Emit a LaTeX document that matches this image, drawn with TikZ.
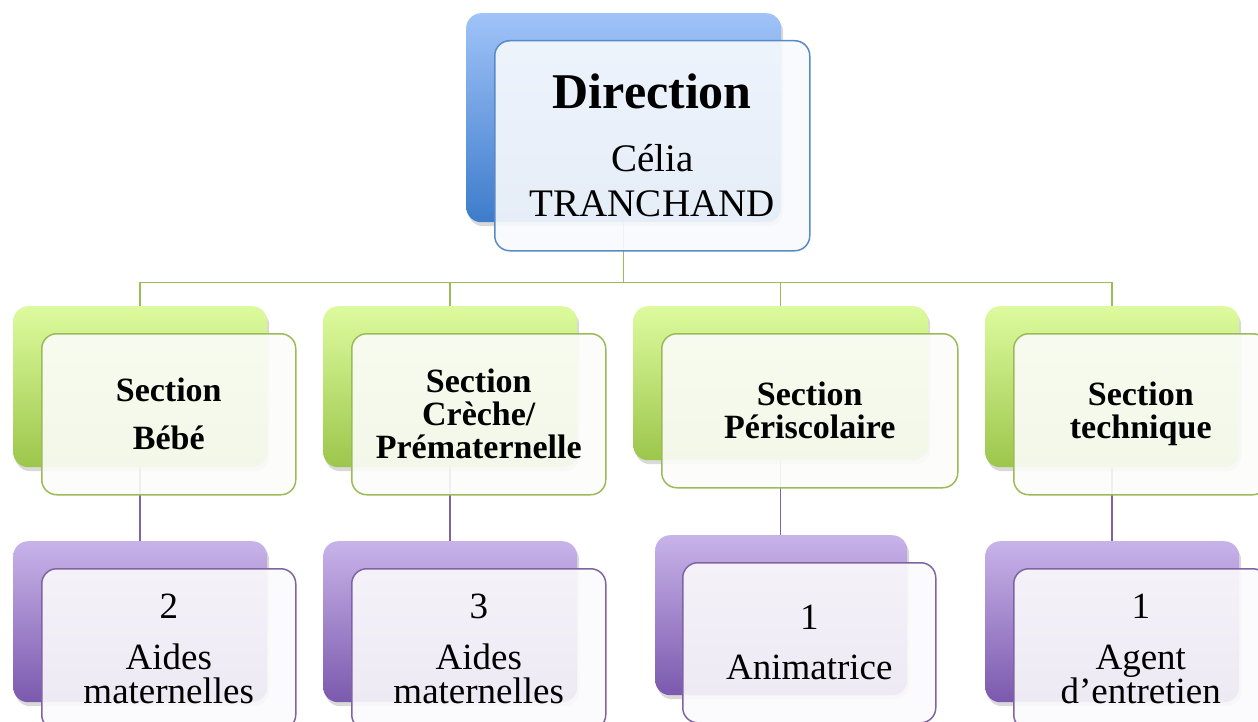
\documentclass[tikz,border=0pt]{standalone}
\usepackage{fontspec}
\setmainfont{Liberation Serif}
\usepackage{tikz}
\usetikzlibrary{positioning,shadows,backgrounds}

\definecolor{blueTop}{HTML}{A0C3F8}
\definecolor{blueBottom}{HTML}{3D7CCB}
\definecolor{blueLine}{HTML}{5A8AC6}
\definecolor{greenTop}{HTML}{DDFB9E}
\definecolor{greenBottom}{HTML}{9CC64B}
\definecolor{greenLine}{HTML}{9BBB59}
\definecolor{purpleTop}{HTML}{C8B3E9}
\definecolor{purpleBottom}{HTML}{7B59AE}
\definecolor{purpleLine}{HTML}{8064A2}

\tikzset{
  card/.style={rectangle, rounded corners=15pt, inner sep=0pt, anchor=north west},
  back/.style={card, drop shadow={opacity=0.3, shadow xshift=2pt, shadow yshift=-4pt}},
  front/.style={card, line width=1.5pt, fill opacity=0.9, text opacity=1, align=center},
  blueback/.style={back, top color=blueTop, bottom color=blueBottom},
  bluefront/.style={front, draw=blueLine, fill=blueLine!4!white},
  greenback/.style={back, top color=greenTop, bottom color=greenBottom},
  greenfront/.style={front, draw=greenLine, fill=greenLine!3!white},
  purpleback/.style={back, top color=purpleTop, bottom color=purpleBottom},
  purplefront/.style={front, draw=purpleLine, fill=purpleLine!3!white},
  sectionsize/.style={minimum width=254pt, minimum height=161pt},
  greenlink/.style={draw=greenLine, line width=1.5pt},
  purplelink/.style={draw=purpleLine, line width=1.5pt},
  dirtext/.style={font=\fontsize{39}{45}\selectfont},
  sectiontext/.style={font=\fontsize{34}{33}\selectfont\bfseries},
  stafftext/.style={font=\fontsize{37}{34}\selectfont},
}

\begin{document}
\begin{tikzpicture}[x=1pt, y=-1pt]
        \useasboundingbox (0,0) rectangle (1258,722);
        \clip (0,0) rectangle (1258,722);

        % NODES
        % -----------------

        % Direction
        \node[blueback, minimum width=315pt, minimum height=209pt] (dirback) at (466,13) {};
        \node[bluefront, dirtext, minimum width=315pt, minimum height=210pt, below right=27pt and 28pt of dirback.north west] (dir)
          {{\fontsize{50}{50}\selectfont\bfseries Direction}\\[18pt]Célia\\TRANCHAND};

        % Sections
        \node[greenback, sectionsize] (s1back) at (13,306) {};
        \node[greenfront, sectionsize, sectiontext, below right=27pt and 28pt of s1back.north west] (s1)
          {Section\\[15pt]Bébé};

        \node[greenback, sectionsize] (s2back) at (323,306) {};
        \node[greenfront, sectionsize, sectiontext, below right=27pt and 28pt of s2back.north west] (s2)
          {Section\\Crèche/\\Prématernelle};

        \node[greenback, minimum width=295pt, minimum height=154pt] (s3back) at (633,306) {};
        \node[greenfront, minimum width=296pt, minimum height=154pt, sectiontext, below right=27pt and 28pt of s3back.north west] (s3)
          {Section\\Périscolaire};

        \node[greenback, sectionsize] (s4back) at (985,306) {};
        \node[greenfront, sectionsize, sectiontext, below right=27pt and 28pt of s4back.north west] (s4)
          {Section\\technique};

        % Staff
        \node[purpleback, sectionsize] (p1back) at (13,541) {};
        \node[purplefront, sectionsize, stafftext, below right=27pt and 28pt of p1back.north west] (p1)
          {2\\[17pt]Aides\\maternelles};

        \node[purpleback, sectionsize] (p2back) at (323,541) {};
        \node[purplefront, sectionsize, stafftext, below right=27pt and 28pt of p2back.north west] (p2)
          {3\\[17pt]Aides\\maternelles};

        \node[purpleback, minimum width=252pt, minimum height=160pt] (p3back) at (655,535) {};
        \node[purplefront, minimum width=253pt, minimum height=160pt, stafftext, below right=27pt and 27pt of p3back.north west] (p3)
          {1\\[16pt]Animatrice};

        \node[purpleback, sectionsize] (p4back) at (985,541) {};
        \node[purplefront, sectionsize, stafftext, below right=27pt and 28pt of p4back.north west] (p4)
          {1\\[17pt]Agent\\d’entretien};

        % EDGES
        % -----------------
        \begin{pgfonlayer}{background}
          \draw[greenlink] (dirback.south) -- ++(0,60) coordinate (bus);
          \foreach \s in {s1back,s2back,s3back,s4back}
            \draw[greenlink] (bus) -| (\s.north);
          \foreach \s/\p in {s1back/p1back,s2back/p2back,s3back/p3back,s4back/p4back}
            \draw[purplelink] (\s.south) -- (\s.south |- \p.north);
        \end{pgfonlayer}

\end{tikzpicture}
\end{document}
